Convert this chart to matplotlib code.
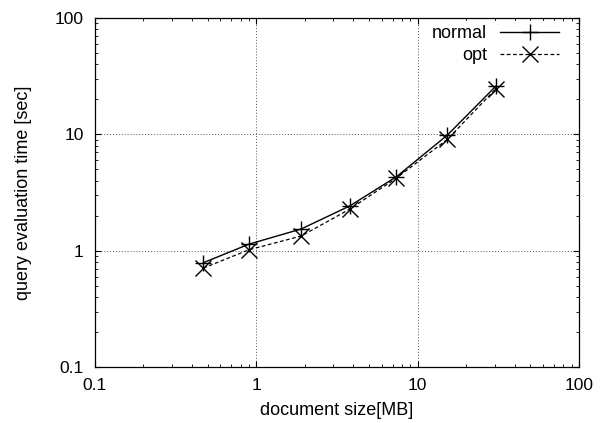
import numpy as np
import matplotlib.pyplot as plt
from matplotlib import ticker

plt.rcParams['font.family'] = ['Liberation Sans', 'DejaVu Sans']

# document sizes [MB] and query evaluation times [sec]
sizes = [0.47, 0.9, 1.9, 3.8, 7.4, 15.3, 30.5]
normal_times = [0.79, 1.14, 1.54, 2.43, 4.33, 9.86, 25.9]
opt_times = [0.71, 1.02, 1.34, 2.28, 4.22, 9.06, 24.6]

fig = plt.figure(figsize=(6.0, 4.23), dpi=100)
ax = fig.add_axes([0.158, 0.1317, 0.807, 0.826])

ax.plot(sizes, normal_times, color='black', lw=1.0, ls='-',
        marker='+', ms=12, mew=1.0, label='normal')
ax.plot(sizes, opt_times, color='black', lw=0.9, ls=(0, (3, 2)),
        marker='x', ms=11, mew=1.0, label='opt')

ax.set_xscale('log')
ax.set_yscale('log')
ax.set_xlim(0.1, 100)
ax.set_ylim(0.1, 100)

fmt = ticker.FuncFormatter(lambda v, p: '%g' % v)
ax.xaxis.set_major_formatter(fmt)
ax.yaxis.set_major_formatter(fmt)
ax.xaxis.set_minor_formatter(ticker.NullFormatter())
ax.yaxis.set_minor_formatter(ticker.NullFormatter())

ax.tick_params(which='both', direction='in', top=True, right=True,
               labelsize=12.5, colors='black')
ax.tick_params(which='major', length=4, width=0.8, pad=8)
ax.tick_params(which='minor', length=2.2, width=0.6)

ax.grid(True, which='major', ls=(0, (1, 2)), color='#555555', lw=0.7)
for s in ax.spines.values():
    s.set_linewidth(0.9)

ax.set_xlabel('document size[MB]', fontsize=13, labelpad=6)
ax.set_ylabel('query evaluation time [sec]', fontsize=13, labelpad=16)

leg = ax.legend(loc='upper right', bbox_to_anchor=(0.967, 0.99),
                markerfirst=False, frameon=True, fontsize=13,
                handlelength=3.3, borderaxespad=0, borderpad=0.2,
                labelspacing=0.3, handletextpad=0.7)
leg.get_frame().set_edgecolor('none')
leg.get_frame().set_facecolor('white')
leg.get_frame().set_alpha(1.0)

fig.savefig('out.png', dpi=100)
